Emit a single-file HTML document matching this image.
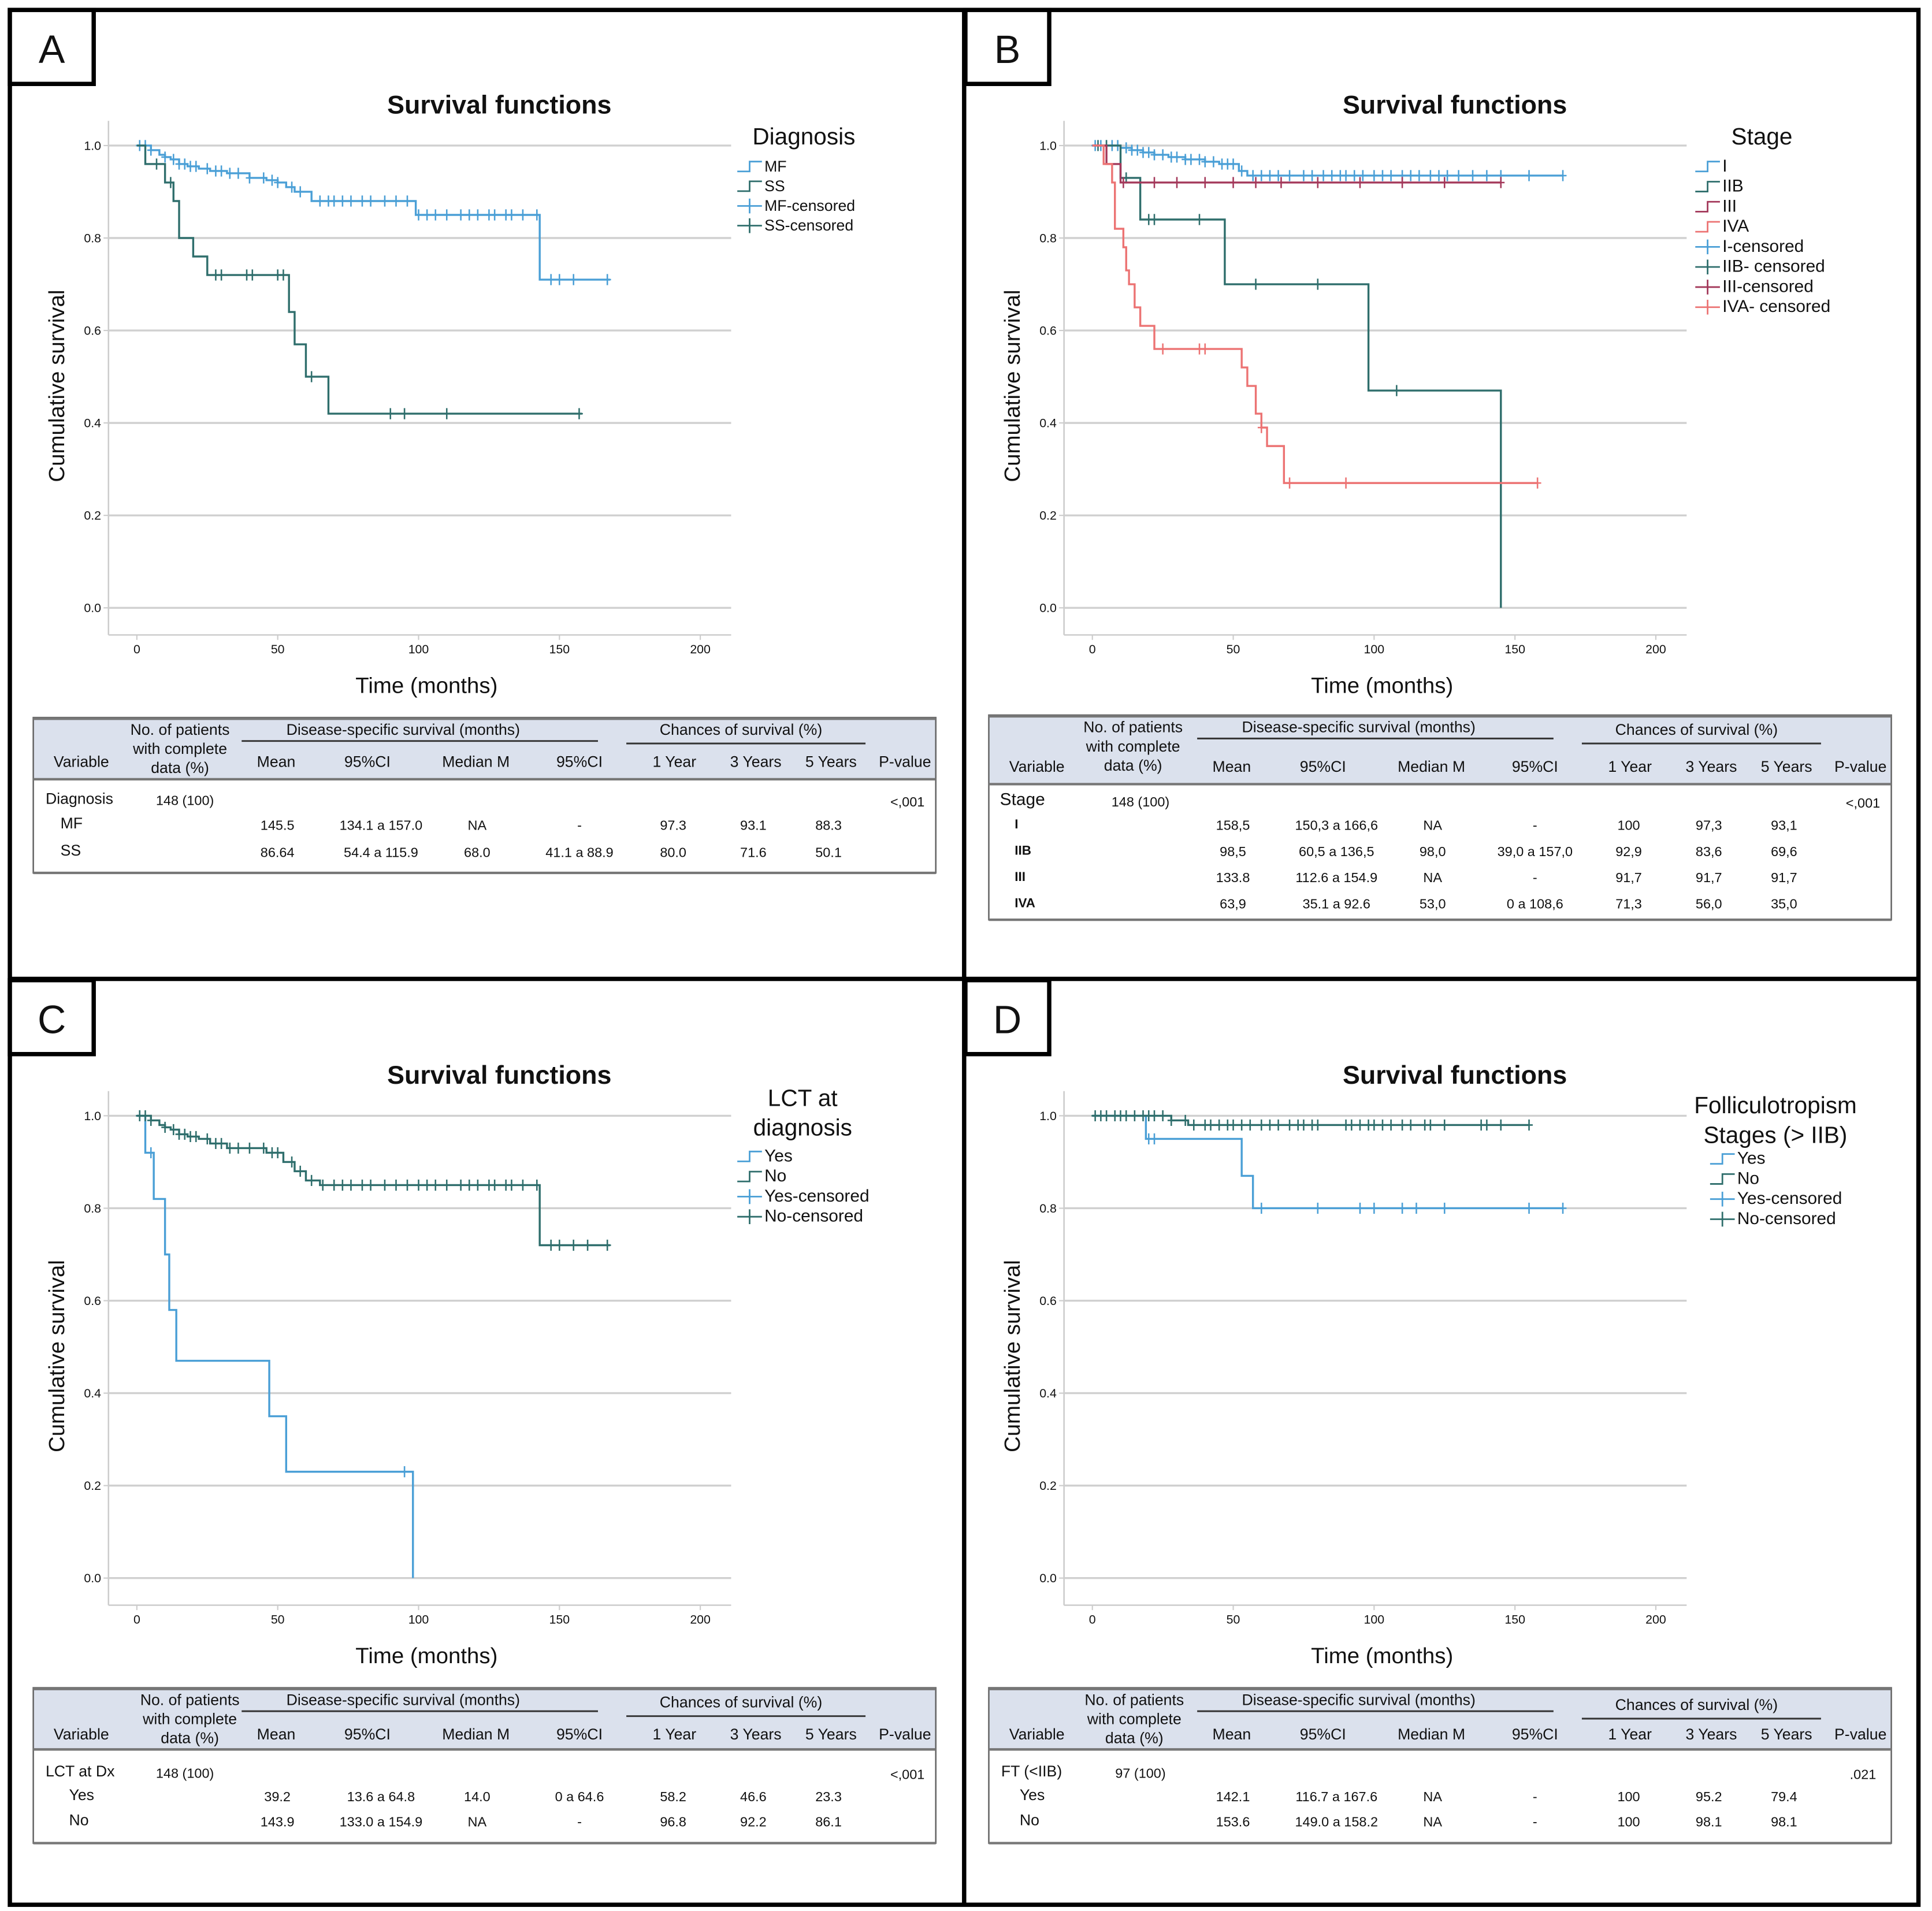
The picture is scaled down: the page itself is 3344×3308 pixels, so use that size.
<!DOCTYPE html>
<html><head><meta charset="utf-8">
<style>
html,body{margin:0;padding:0;background:#fff;}
svg{display:block;font-family:"Liberation Sans",Arial,sans-serif;}
</style></head>
<body>
<svg id="fig" width="3344" height="3308" viewBox="0 0 1567 1550" xmlns="http://www.w3.org/2000/svg">
<rect x="0" y="0" width="1567" height="1550" fill="#fff"/>
<g id="frames">
<rect x="8" y="8" width="1548" height="1537" fill="none" stroke="#000" stroke-width="3.5"/>
<line x1="782" y1="8" x2="782" y2="1545" stroke="#000" stroke-width="3.5"/>
<line x1="8" y1="794" x2="1556" y2="794" stroke="#000" stroke-width="3.5"/>
</g>
<g id="root"></g>
</svg>
<script>
// ---------- DATA ----------
// Panel A: Diagnosis
const aMfTimes=[0,5,8,10,12,15,18,22,26,32,40,46,50,53,56,62,99,143];
const aMfSurv=[1,0.99,0.98,0.975,0.97,0.96,0.955,0.95,0.945,0.94,0.93,0.925,0.92,0.91,0.9,0.88,0.85,0.71];
const aMfEnd=168;
const aMfCens=[1,3,5,10,13,15,17,19,21,25,28,30,33,36,40,45,48,50,55,58,65,68,70,73,76,80,83,88,92,96,100,103,106,110,115,118,121,125,127,131,133,137,142,147,150,155,167];
const aSsTimes=[0,3,10,13,15,20,25,54,56,60,68];
const aSsSurv=[1,0.96,0.92,0.88,0.8,0.76,0.72,0.64,0.57,0.5,0.42];
const aSsEnd=158;
const aSsCens=[7,12,28,30,39,41,50,52,62,90,95,110,157];
// Panel B: Stage
const bITimes=[0,10,14,18,22,27,33,40,45,52,55];
const bISurv=[1,0.995,0.99,0.985,0.98,0.975,0.97,0.965,0.96,0.945,0.935];
const bIEnd=167;
const bICens=[1,3,5,7,9,12,14,16,18,20,22,25,28,30,33,35,38,40,43,46,48,50,53,57,60,63,66,70,75,78,82,85,88,90,93,96,100,103,106,110,113,116,120,123,126,130,135,140,145,155,167];
const bIIBTimes=[0,10,17,47,98,145];
const bIIBSurv=[1,0.93,0.84,0.70,0.47,0];
const bIIBEnd=145;
const bIIBCens=[2,5,12,20,22,38,58,80,108];
const bIIITimes=[0,5,10];
const bIIISurv=[1,0.96,0.92];
const bIIIEnd=145;
const bIIICens=[11,22,30,40,50,58,67,80,95,110,125,145];
const bIVATimes=[0,4,7,8,11,12,13,15,17,22,53,55,58,60,62,68];
const bIVASurv=[1,0.96,0.92,0.82,0.78,0.73,0.70,0.65,0.61,0.56,0.52,0.48,0.42,0.39,0.35,0.27];
const bIVAEnd=158;
const bIVACens=[25,38,40,60,70,90,158];
// Panel C: LCT at diagnosis
const cYesTimes=[0,3,6,10,11.5,14,47,53,98];
const cYesSurv=[1,0.92,0.82,0.70,0.58,0.47,0.35,0.23,0];
const cYesEnd=98;
const cYesCens=[1,5,95];
const cNoTimes=[0,5,8,10,12,15,18,22,26,32,46,52,56,60,65,143];
const cNoSurv=[1,0.99,0.98,0.975,0.97,0.96,0.955,0.95,0.94,0.93,0.92,0.9,0.88,0.86,0.85,0.72];
const cNoEnd=168;
const cNoCens=[1,3,5,10,13,15,17,19,21,25,28,30,33,36,40,45,48,50,55,58,62,66,70,73,76,80,83,88,92,96,100,103,106,110,115,118,121,125,127,131,133,137,142,147,150,155,160,167];
// Panel D: Folliculotropism
const dYesTimes=[0,19,53,57];
const dYesSurv=[1,0.95,0.87,0.80];
const dYesEnd=167;
const dYesCens=[20,22,60,80,95,100,110,115,125,155,167];
const dNoTimes=[0,28,34];
const dNoSurv=[1,0.99,0.98];
const dNoEnd=155;
const dNoCens=[1,3,5,8,10,12,15,18,20,22,25,28,33,36,40,42,45,48,50,53,56,60,63,66,70,73,75,78,80,90,92,95,98,100,103,106,110,113,118,120,125,138,140,145,155];
const xTicks=[0,50,100,150,200];
const yTicks=[0,0.2,0.4,0.6,0.8,1.0];

// ---------- DRAW ----------
const NS="http://www.w3.org/2000/svg";
const root=document.getElementById('root');
function mk(tag,attrs,parent,text){const e=document.createElementNS(NS,tag);for(const k in attrs)e.setAttribute(k,attrs[k]);if(text!==undefined)e.textContent=text;(parent||root).appendChild(e);return e;}
function txt(p,x,y,s,size,anchor,weight,name){const t=mk('text',{x:x,y:y,'font-size':size,'text-anchor':anchor||'start','font-weight':weight||'normal',fill:'#111'},p,s);


return t;}
function survAt(times,surv,t){let v=surv[0];for(let i=0;i<times.length;i++){if(times[i]<=t)v=surv[i];}return v;}

function panel(o){
 const g=mk('g',{});
 
 
 const dx=o.dx,dy=o.dy;
 const lb=mk('rect',{x:8+dx,y:8+dy,width:68,height:60,fill:'#fff',stroke:'#000','stroke-width':3.5},g);
 
 
 txt(g,42+dx,51+dy,o.letter,32,'middle','normal','panel-letter');
 txt(g,405+dx,92+dy,'Survival functions',21,'middle','bold','chart-title');
 const X=t=>111+dx+t*2.285, Y=v=>493+dy-v*375;
 const ax=mk('g',{},g);
 
 
 mk('line',{x1:88+dx,y1:98+dy,x2:88+dx,y2:515+dy,stroke:'#ccc','stroke-width':1.2},ax);
 mk('line',{x1:88+dx,y1:515+dy,x2:593+dx,y2:515+dy,stroke:'#ccc','stroke-width':1.2},ax);
 yTicks.forEach(v=>{
  mk('line',{x1:88+dx,y1:Y(v),x2:593+dx,y2:Y(v),stroke:'#d0d0d0','stroke-width':1.6},ax);
  mk('line',{x1:84+dx,y1:Y(v),x2:88+dx,y2:Y(v),stroke:'#ccc','stroke-width':1},ax);
  txt(ax,82+dx,Y(v)+3.5,v.toFixed(1),10,'end','normal','y-tick-label');
 });
 xTicks.forEach(t=>{
  mk('line',{x1:X(t),y1:515+dy,x2:X(t),y2:519+dy,stroke:'#ccc','stroke-width':1},ax);
  txt(ax,X(t),530+dy,String(t),10,'middle','normal','x-tick-label');
 });
 const yt=txt(ax,0,0,'Cumulative survival',18,'middle','normal','y-axis-title');
 yt.setAttribute('transform','translate('+(52+dx)+','+(313+dy)+') rotate(-90)');
 txt(ax,346+dx,562+dy,'Time (months)',18,'middle','normal','x-axis-title');
 o.series.forEach(s=>{
  let d='M'+X(s.times[0])+','+Y(s.surv[0]);
  for(let i=1;i<s.times.length;i++){d+=' H'+X(s.times[i])+' V'+Y(s.surv[i]);}
  d+=' H'+X(s.end);
  const p=mk('path',{d:d,fill:'none',stroke:s.color,'stroke-width':1.6},g);
  
  
  s.cens.forEach(t=>{
   const v=survAt(s.times,s.surv,t);const x=X(t),y=Y(v);
   const c=mk('path',{d:'M'+x+','+(y-4.5)+' V'+(y+4.5)+' M'+(x-3)+','+y+' H'+(x+3),stroke:s.color,'stroke-width':1.2,fill:'none'},g);
   
   
  });
 });
 const lg=mk('g',{},g);
 
 
 o.legTitle.forEach((l,i)=>txt(lg,o.legTitleX+dx,o.legTitleY+dy+i*24,l,19,'middle','normal','legend-title'));
 o.legend.forEach((e,i)=>{
  const y=o.legY+dy+i*o.legStep, x=o.legX+dx;
  if(e.cens){mk('path',{d:'M'+(x-22)+','+(y-4)+' H'+(x-2)+' M'+(x-12)+','+(y-10)+' V'+(y+2),stroke:e.color,'stroke-width':1.3,fill:'none'},lg);}
  else{mk('path',{d:'M'+(x-22)+','+(y)+' H'+(x-12)+' V'+(y-8)+' H'+(x-2),stroke:e.color,'stroke-width':1.3,fill:'none'},lg);}
  txt(lg,x,y,e.label,o.legSize,'start','normal','legend-entry');
 });
 const t=o.table, tx=27+dx, ty=t.y+dy, tw=732;
 const tg=mk('g',{},g);
 
 
 mk('rect',{x:tx,y:ty,width:tw,height:t.hh,fill:'#dbe1ed'},tg);
 mk('rect',{x:tx,y:ty,width:tw,height:t.h,fill:'none',stroke:'#666','stroke-width':1.2},tg);
 mk('line',{x1:tx,y1:ty+1,x2:tx+tw,y2:ty+1,stroke:'#777','stroke-width':2},tg);
 mk('line',{x1:tx,y1:ty+t.hh,x2:tx+tw,y2:ty+t.hh,stroke:'#777','stroke-width':2},tg);
 mk('line',{x1:tx,y1:ty+t.h,x2:tx+tw,y2:ty+t.h,stroke:'#777','stroke-width':2},tg);
 mk('line',{x1:196+dx,y1:ty+19,x2:485+dx,y2:ty+19,stroke:'#333','stroke-width':1.4},tg);
 mk('line',{x1:508+dx,y1:ty+t.chY+7,x2:702+dx,y2:ty+t.chY+7,stroke:'#333','stroke-width':1.4},tg);
 const hs=12.5;
 t.npat.forEach((l,i)=>txt(tg,t.npatX+dx,ty+14+i*15.5,l,hs,'middle','normal','table-header'));
 txt(tg,327+dx,ty+14,'Disease-specific survival (months)',hs,'middle','normal','table-header');
 txt(tg,601+dx,ty+t.chY,'Chances of survival (%)',hs,'middle','normal','table-header');
 const cols=[[66,'Variable'],[224,'Mean'],[298,'95%CI'],[386,'Median M'],[470,'95%CI'],[547,'1 Year'],[613,'3 Years'],[674,'5 Years'],[734,'P-value']];
 cols.forEach(c=>txt(tg,c[0]+dx,ty+t.h2,c[1],hs,'middle','normal','table-column-header'));
 txt(tg,t.varX+dx,ty+t.r0,t.varName,t.varSize,'start','normal','table-variable');
 txt(tg,150+dx,ty+t.r0+1,t.n,11,'middle','normal','table-cell');
 txt(tg,736+dx,ty+t.r0+2,t.p,11,'middle','normal','table-cell');
 const vx=[225,309,387,470,546,611,672];
 t.rows.forEach((r,i)=>{
  const y=ty+t.r1+i*t.rs;
  txt(tg,t.rowX+dx,y,r[0],t.rowSize,'start',t.rowBold?'bold':'normal','table-row-label');
  r.slice(1).forEach((v,j)=>txt(tg,vx[j]+dx,y+1,v,11,'middle','normal','table-cell'));
 });
}

const BLUE='#4a9fd6',TEAL='#2f6e6c',RED='#a3385a',SALMON='#ec7373';
panel({letter:'A',dx:0,dy:0,
 series:[{name:'mf',times:aMfTimes,surv:aMfSurv,end:aMfEnd,cens:aMfCens,color:BLUE},
         {name:'ss',times:aSsTimes,surv:aSsSurv,end:aSsEnd,cens:aSsCens,color:TEAL}],
 legTitle:['Diagnosis'],legTitleX:652,legTitleY:117,legX:620,legY:139,legStep:16,legSize:12.5,
 legend:[{label:'MF',color:BLUE},{label:'SS',color:TEAL},{label:'MF-censored',color:BLUE,cens:1},{label:'SS-censored',color:TEAL,cens:1}],
 table:{y:582,h:126,hh:50,chY:14,h2:40,npat:['No. of patients','with complete','data (%)'],npatX:146,
  varX:37,varName:'Diagnosis',varSize:12.5,n:'148 (100)',p:'<,001',r0:70,r1:90,rs:22,rowX:49,rowSize:12.5,
  rows:[['MF','145.5','134.1 a 157.0','NA','-','97.3','93.1','88.3'],['SS','86.64','54.4 a 115.9','68.0','41.1 a 88.9','80.0','71.6','50.1']]}});
panel({letter:'B',dx:775,dy:0,
 series:[{name:'i',times:bITimes,surv:bISurv,end:bIEnd,cens:bICens,color:BLUE},
         {name:'iib',times:bIIBTimes,surv:bIIBSurv,end:bIIBEnd,cens:bIIBCens,color:TEAL},
         {name:'iii',times:bIIITimes,surv:bIIISurv,end:bIIIEnd,cens:bIIICens,color:RED},
         {name:'iva',times:bIVATimes,surv:bIVASurv,end:bIVAEnd,cens:bIVACens,color:SALMON}],
 legTitle:['Stage'],legTitleX:654,legTitleY:117,legX:622,legY:139,legStep:16.3,legSize:14,
 legend:[{label:'I',color:BLUE},{label:'IIB',color:TEAL},{label:'III',color:RED},{label:'IVA',color:SALMON},
  {label:'I-censored',color:BLUE,cens:1},{label:'IIB- censored',color:TEAL,cens:1},{label:'III-censored',color:RED,cens:1},{label:'IVA- censored',color:SALMON,cens:1}],
 table:{y:580,h:166,hh:56,chY:16,h2:46,npat:['No. of patients','with complete','data (%)'],npatX:144,
  varX:36,varName:'Stage',varSize:14,n:'148 (100)',p:'<,001',r0:73,r1:92,rs:21.3,rowX:48,rowSize:10.5,rowBold:1,
  rows:[['I','158,5','150,3 a 166,6','NA','-','100','97,3','93,1'],['IIB','98,5','60,5 a 136,5','98,0','39,0 a 157,0','92,9','83,6','69,6'],
        ['III','133.8','112.6 a 154.9','NA','-','91,7','91,7','91,7'],['IVA','63,9','35.1 a 92.6','53,0','0 a 108,6','71,3','56,0','35,0']]}});
panel({letter:'C',dx:0,dy:787,
 series:[{name:'yes',times:cYesTimes,surv:cYesSurv,end:cYesEnd,cens:cYesCens,color:BLUE},
         {name:'no',times:cNoTimes,surv:cNoSurv,end:cNoEnd,cens:cNoCens,color:TEAL}],
 legTitle:['LCT at','diagnosis'],legTitleX:651,legTitleY:110,legX:620,legY:155,legStep:16.3,legSize:14,
 legend:[{label:'Yes',color:BLUE},{label:'No',color:TEAL},{label:'Yes-censored',color:BLUE,cens:1},{label:'No-censored',color:TEAL,cens:1}],
 table:{y:582,h:126,hh:50,chY:16,h2:42,npat:['No. of patients','with complete','data (%)'],npatX:154,
  varX:37,varName:'LCT at Dx',varSize:12.5,n:'148 (100)',p:'<,001',r0:72,r1:91,rs:20.5,rowX:56,rowSize:12.5,
  rows:[['Yes','39.2','13.6 a 64.8','14.0','0 a 64.6','58.2','46.6','23.3'],['No','143.9','133.0 a 154.9','NA','-','96.8','92.2','86.1']]}});
panel({letter:'D',dx:775,dy:787,
 series:[{name:'yes',times:dYesTimes,surv:dYesSurv,end:dYesEnd,cens:dYesCens,color:BLUE},
         {name:'no',times:dNoTimes,surv:dNoSurv,end:dNoEnd,cens:dNoCens,color:TEAL}],
 legTitle:['Folliculotropism','Stages (> IIB)'],legTitleX:665,legTitleY:116,legX:634,legY:157,legStep:16.3,legSize:14,
 legend:[{label:'Yes',color:BLUE},{label:'No',color:TEAL},{label:'Yes-censored',color:BLUE,cens:1},{label:'No-censored',color:TEAL,cens:1}],
 table:{y:582,h:126,hh:50,chY:18,h2:42,npat:['No. of patients','with complete','data (%)'],npatX:145,
  varX:37,varName:'FT (<IIB)',varSize:12.5,n:'97 (100)',p:'.021',r0:72,r1:91,rs:20.5,rowX:52,rowSize:12.5,
  rows:[['Yes','142.1','116.7 a 167.6','NA','-','100','95.2','79.4'],['No','153.6','149.0 a 158.2','NA','-','100','98.1','98.1']]}});
</script>
</body></html>
